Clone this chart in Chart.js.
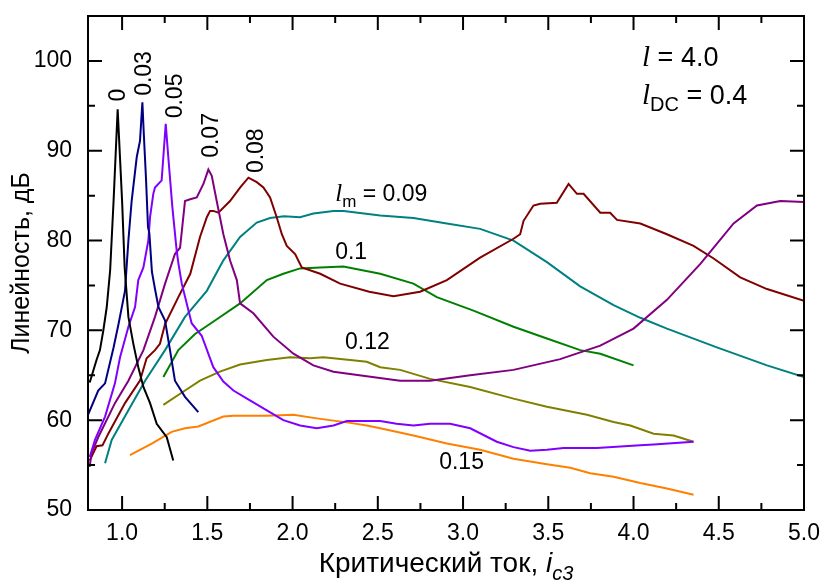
<!DOCTYPE html>
<html>
<head>
<meta charset="utf-8">
<script src="https://cdn.jsdelivr.net/npm/chart.js@4"></script>
<style>
  html, body { margin: 0; padding: 0; background: #fff; }
</style>
</head>
<body>
<canvas id="myChart" width="824" height="586"></canvas>
<script>
// tick labels
const xTicks = [1.0, 1.5, 2.0, 2.5, 3.0, 3.5, 4.0, 4.5, 5.0]
const xMinor = [1.25, 1.75, 2.25, 2.75, 3.25, 3.75, 4.25, 4.75]
const yTicks = [50, 60, 70, 80, 90, 100]
const yMinor = [55, 65, 75, 85, 95]

// series, l_m = ...
const labels = ['0', '0.03', '0.05', '0.07', '0.08', '0.09', '0.1', '0.12', '0.15']
const colors = ['#000000', '#000080', '#8000ff', '#800080', '#800000', '#008080', '#008000', '#808000', '#ff8000']

const x0 = [0.81, 0.85, 0.87, 0.89, 0.91, 0.93, 0.95, 0.974, 1.0, 1.015, 1.037, 1.066, 1.095, 1.125, 1.164, 1.203, 1.262, 1.3]
const y0 = [64.2, 66.7, 67.8, 70.0, 72.6, 76.7, 84.4, 94.6, 84.4, 77.0, 71.5, 68.5, 65.9, 63.7, 61.9, 59.6, 58.1, 55.5]

const x1 = [0.8, 0.86, 0.9, 0.95, 0.98, 1.017, 1.037, 1.056, 1.086, 1.105, 1.119, 1.127, 1.14, 1.152, 1.16, 1.175, 1.193, 1.213, 1.252, 1.281, 1.31, 1.369, 1.447]
const y1 = [60.6, 63.3, 64.1, 68.1, 70.8, 74.4, 80.0, 84.4, 89.3, 91.1, 95.4, 92.0, 87.0, 81.5, 80.8, 76.5, 74.6, 72.6, 71.1, 67.8, 64.4, 62.6, 60.9]

const x2 = [0.81, 0.841, 0.9, 0.958, 0.988, 1.037, 1.076, 1.095, 1.125, 1.154, 1.164, 1.183, 1.193, 1.232, 1.256, 1.271, 1.295, 1.32, 1.33, 1.35, 1.408, 1.467, 1.535, 1.594, 1.653, 1.75, 1.849, 1.946, 2.044, 2.142, 2.24, 2.318, 2.435, 2.514, 2.61, 2.709, 2.807, 2.924, 3.042, 3.198, 3.296, 3.394, 3.492, 3.59, 3.785, 4.04, 4.118, 4.352]
const y2 = [55.9, 57.8, 60.4, 64.1, 67.0, 70.4, 72.6, 75.6, 77.0, 80.0, 82.6, 85.2, 85.9, 86.7, 93.0, 89.3, 83.7, 78.9, 77.5, 75.2, 70.8, 69.4, 65.9, 64.3, 63.3, 62.2, 61.1, 60.0, 59.4, 59.1, 59.4, 59.9, 59.9, 59.9, 59.6, 59.4, 59.6, 59.6, 59.1, 57.6, 57.0, 56.6, 56.7, 56.9, 56.9, 57.2, 57.3, 57.6]

const x3 = [0.81, 0.82, 0.86, 0.958, 1.037, 1.125, 1.193, 1.252, 1.31, 1.34, 1.369, 1.399, 1.438, 1.477, 1.506, 1.526, 1.555, 1.594, 1.633, 1.673, 1.692, 1.77, 1.887, 2.005, 2.122, 2.24, 2.435, 2.631, 2.807, 3.042, 3.296, 3.57, 3.805, 4.0, 4.196, 4.392, 4.587, 4.724, 4.861, 5.0]
const y3 = [54.8, 56.3, 58.1, 61.9, 64.4, 67.8, 71.5, 75.2, 78.5, 79.2, 84.4, 84.6, 84.8, 86.3, 87.9, 87.2, 84.4, 80.7, 77.8, 75.6, 73.0, 71.9, 69.3, 67.4, 66.1, 65.4, 64.9, 64.4, 64.4, 65.0, 65.6, 66.8, 68.3, 70.2, 73.4, 77.4, 81.9, 83.9, 84.4, 84.3]

const x4 = [0.81, 0.85, 0.885, 0.919, 1.017, 1.105, 1.144, 1.193, 1.222, 1.252, 1.33, 1.4, 1.457, 1.497, 1.516, 1.535, 1.565, 1.633, 1.692, 1.741, 1.79, 1.829, 1.868, 1.907, 1.937, 1.966, 2.015, 2.054, 2.162, 2.279, 2.45, 2.592, 2.748, 2.905, 3.1, 3.296, 3.335, 3.355, 3.413, 3.453, 3.55, 3.619, 3.668, 3.707, 3.805, 3.863, 3.903, 4.04, 4.196, 4.352, 4.47, 4.626, 4.783, 5.0]
const y4 = [55.5, 57.1, 57.2, 58.5, 61.9, 64.4, 66.9, 67.8, 68.5, 70.7, 73.7, 76.3, 80.4, 82.6, 83.3, 83.3, 83.1, 84.4, 85.9, 87.0, 86.5, 85.9, 84.8, 82.6, 80.7, 79.4, 78.5, 77.0, 76.3, 75.2, 74.3, 73.8, 74.3, 75.6, 78.1, 80.2, 80.7, 82.2, 83.9, 84.1, 84.2, 86.3, 85.2, 85.2, 83.1, 83.1, 82.3, 81.9, 80.7, 79.4, 78.0, 75.9, 74.6, 73.3]

const x5 = [0.9, 0.939, 1.037, 1.135, 1.252, 1.369, 1.497, 1.594, 1.692, 1.79, 1.868, 1.95, 2.044, 2.122, 2.24, 2.3, 2.514, 2.709, 2.905, 3.1, 3.296, 3.492, 3.687, 3.883, 4.04, 4.196, 4.489, 4.783, 5.0]
const y5 = [55.2, 57.8, 61.1, 64.4, 67.8, 71.5, 74.4, 77.8, 80.4, 82.0, 82.5, 82.7, 82.6, 83.0, 83.3, 83.3, 82.8, 82.5, 81.9, 81.3, 80.0, 77.6, 74.9, 72.8, 71.4, 70.2, 68.1, 66.1, 64.8]

const x6 = [1.242, 1.33, 1.428, 1.545, 1.692, 1.849, 1.946, 2.044, 2.162, 2.298, 2.514, 2.709, 2.846, 3.061, 3.296, 3.492, 3.687, 3.805, 4.0]
const y6 = [64.8, 67.8, 69.6, 71.1, 73.0, 75.6, 76.3, 76.9, 77.0, 77.1, 76.3, 75.2, 73.7, 72.2, 70.4, 69.1, 67.8, 67.4, 66.1]

const x7 = [1.242, 1.369, 1.457, 1.574, 1.692, 1.849, 1.985, 2.103, 2.181, 2.338, 2.435, 2.514, 2.631, 2.807, 3.042, 3.296, 3.492, 3.727, 3.883, 3.981, 4.118, 4.235, 4.352]
const y7 = [61.7, 63.3, 64.4, 65.4, 66.2, 66.7, 67.0, 66.9, 67.0, 66.7, 66.5, 65.9, 65.6, 64.6, 63.7, 62.4, 61.5, 60.6, 59.8, 59.4, 58.5, 58.3, 57.6]

const x8 = [1.046, 1.174, 1.291, 1.369, 1.447, 1.594, 1.653, 1.849, 2.005, 2.142, 2.338, 2.435, 2.514, 2.709, 2.905, 3.1, 3.296, 3.492, 3.629, 3.746, 3.883, 4.04, 4.196, 4.352]
const y8 = [56.1, 57.4, 58.7, 59.1, 59.3, 60.4, 60.5, 60.5, 60.6, 60.2, 59.7, 59.4, 59.1, 58.3, 57.4, 56.7, 55.7, 55.1, 54.7, 54.1, 53.7, 53.0, 52.4, 51.7]

const xs = [x0, x1, x2, x3, x4, x5, x6, x7, x8]
const ys = [y0, y1, y2, y3, y4, y5, y6, y7, y8]

const SANS = '"Liberation Sans", Arial, sans-serif'
const SERIF = '"Liberation Serif", "Times New Roman", serif'

const datasets = labels.map((l, i) => ({
  label: l,
  data: xs[i].map((x, j) => ({ x: x, y: ys[i][j] })),
  borderColor: colors[i],
  backgroundColor: colors[i],
  borderWidth: 2,
  pointRadius: 0,
  tension: 0,
  fill: false
}))

// draw text pieces one after another (for subscripts / italics)
const drawParts = (ctx, x, y, parts) => {
  let cx = x
  parts.forEach(p => {
    ctx.font = p.f
    ctx.fillText(p.t, cx, y + (p.dy || 0))
    cx += ctx.measureText(p.t).width
  })
}
const partsWidth = (ctx, parts) => {
  let w = 0
  parts.forEach(p => {
    ctx.font = p.f
    w += ctx.measureText(p.t).width
  })
  return w
}

const decor = {
  id: 'decor',
  afterDraw(chart) {
    const ctx = chart.ctx
    const a = chart.chartArea
    const sx = chart.scales.x
    const sy = chart.scales.y
    ctx.save()
    ctx.strokeStyle = '#000'
    ctx.fillStyle = '#000'
    ctx.lineWidth = 2
    ctx.strokeRect(a.left, a.top, a.right - a.left, a.bottom - a.top)

    // inward ticks on all four sides
    ctx.beginPath()
    const tickX = (v, len) => {
      const p = sx.getPixelForValue(v)
      ctx.moveTo(p, a.bottom); ctx.lineTo(p, a.bottom - len)
      ctx.moveTo(p, a.top); ctx.lineTo(p, a.top + len)
    }
    const tickY = (v, len) => {
      const p = sy.getPixelForValue(v)
      ctx.moveTo(a.left, p); ctx.lineTo(a.left + len, p)
      ctx.moveTo(a.right, p); ctx.lineTo(a.right - len, p)
    }
    xTicks.forEach(v => tickX(v, 14))
    xMinor.forEach(v => tickX(v, 7))
    yTicks.forEach(v => tickY(v, 14))
    yMinor.forEach(v => tickY(v, 7))
    ctx.stroke()

    // rotated curve labels
    const rot = [['0', 0.982, 96.2], ['0.03', 1.134, 98.6], ['0.05', 1.316, 96.1], ['0.07', 1.528, 91.7], ['0.08', 1.792, 90.0]]
    ctx.textAlign = 'center'
    ctx.textBaseline = 'middle'
    ctx.font = '23px ' + SANS
    rot.forEach(r => {
      ctx.save()
      ctx.translate(sx.getPixelForValue(r[1]), sy.getPixelForValue(r[2]))
      ctx.rotate(-Math.PI / 2)
      ctx.fillText(r[0], 0, 0)
      ctx.restore()
    })

    // horizontal labels
    ctx.textAlign = 'left'
    ctx.textBaseline = 'alphabetic'
    const px = v => sx.getPixelForValue(v)
    const py = v => sy.getPixelForValue(v)
    drawParts(ctx, px(2.25), py(84.4), [
      { t: 'l', f: 'italic 25px ' + SERIF },
      { t: 'm', f: '17px ' + SANS, dy: 6 },
      { t: ' = 0.09', f: '23px ' + SANS }
    ])
    drawParts(ctx, px(2.25), py(78.0), [{ t: '0.1', f: '23px ' + SANS }])
    drawParts(ctx, px(2.308), py(67.9), [{ t: '0.12', f: '23px ' + SANS }])
    drawParts(ctx, px(2.86), py(54.6), [{ t: '0.15', f: '23px ' + SANS }])

    drawParts(ctx, px(4.05), py(99.4), [
      { t: 'l', f: 'italic 29px ' + SERIF },
      { t: ' = 4.0', f: '27px ' + SANS }
    ])
    drawParts(ctx, px(4.05), py(95.2), [
      { t: 'l', f: 'italic 29px ' + SERIF },
      { t: 'DC', f: '20px ' + SANS, dy: 7 },
      { t: ' = 0.4', f: '27px ' + SANS }
    ])

    // axis titles
    const xt = [
      { t: 'Критический ток, ', f: '28px ' + SANS },
      { t: 'i', f: 'italic 28px ' + SANS },
      { t: 'c3', f: 'italic 20px ' + SANS, dy: 8 }
    ]
    const w = partsWidth(ctx, xt)
    drawParts(ctx, (a.left + a.right) / 2 - w / 2, 572, xt)

    ctx.save()
    ctx.translate(22, (a.top + a.bottom) / 2)
    ctx.rotate(-Math.PI / 2)
    ctx.textAlign = 'center'
    ctx.textBaseline = 'middle'
    ctx.font = '25px ' + SANS
    ctx.fillText('Линейность, дБ', 0, 0)
    ctx.restore()

    ctx.restore()
  }
}

const noPad = s => { s.paddingTop = 0; s.paddingBottom = 0; s.paddingLeft = 0; s.paddingRight = 0 }

const config = {
  type: 'line',
  data: { datasets: datasets },
  options: {
    responsive: false,
    animation: false,
    layout: { padding: { top: 16, right: 20, left: 0, bottom: 0 } },
    plugins: {
      legend: { display: false },
      tooltip: { enabled: false }
    },
    scales: {
      x: {
        type: 'linear',
        min: 0.8,
        max: 5.0,
        grid: { display: false, drawTicks: false },
        border: { display: false },
        afterBuildTicks: s => { s.ticks = xTicks.map(v => ({ value: v })) },
        afterFit: s => { s.height = 76; noPad(s) },
        ticks: {
          color: '#000',
          font: { family: SANS, size: 23 },
          padding: 10,
          maxRotation: 0,
          autoSkip: false,
          callback: v => Number(v).toFixed(1)
        }
      },
      y: {
        type: 'linear',
        min: 50,
        max: 105,
        grid: { display: false, drawTicks: false },
        border: { display: false },
        afterBuildTicks: s => { s.ticks = yTicks.map(v => ({ value: v })) },
        afterFit: s => { s.width = 88; noPad(s) },
        ticks: {
          color: '#000',
          font: { family: SANS, size: 23 },
          padding: 16,
          autoSkip: false,
          callback: v => String(v)
        }
      }
    }
  },
  plugins: [decor]
}
const myChart = new Chart(document.getElementById('myChart'), config)
</script>
</body>
</html>
